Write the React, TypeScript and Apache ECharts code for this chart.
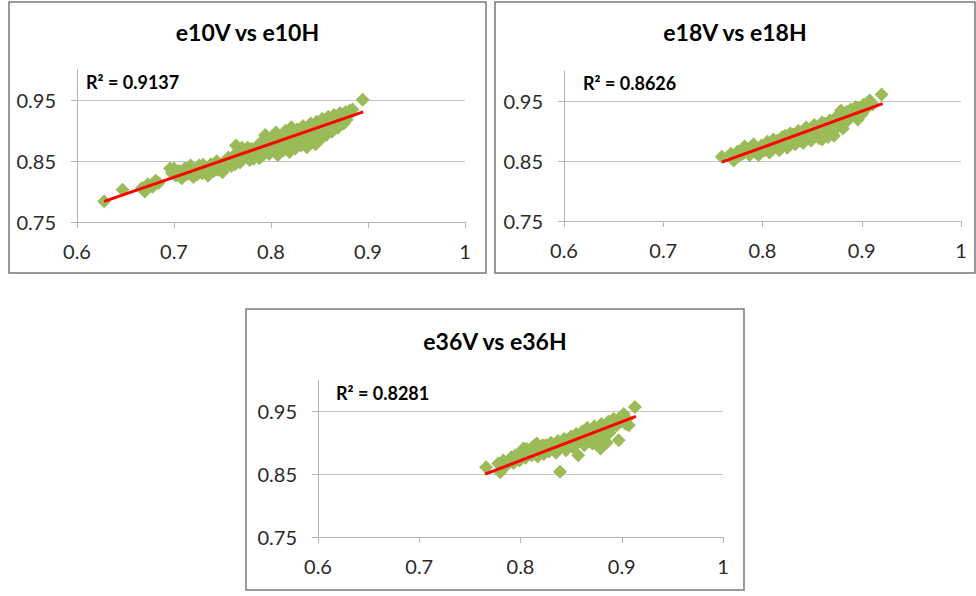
import React, { useEffect, useRef } from "react";
import * as echarts from "echarts";

const TITLES = ["e10V vs e10H", "e18V vs e18H", "e36V vs e36H"];
const R2_LABELS = ["R² = 0.9137", "R² = 0.8626", "R² = 0.8281"];
const X_TICKS = [0.6, 0.7, 0.8, 0.9, 1];
const Y_TICKS = [0.75, 0.85, 0.95];

const E10_POINTS: number[][] = [
  [0.628, 0.784], [0.647, 0.803], [0.667, 0.806], [0.67, 0.8], [0.673, 0.812], [0.678, 0.808],
  [0.681, 0.818], [0.684, 0.814], [0.696, 0.838], [0.698, 0.83], [0.702, 0.826], [0.705, 0.834],
  [0.708, 0.822], [0.711, 0.838], [0.714, 0.829], [0.717, 0.843], [0.72, 0.824], [0.723, 0.836],
  [0.726, 0.843], [0.729, 0.83], [0.732, 0.838], [0.735, 0.826], [0.738, 0.845], [0.741, 0.834],
  [0.744, 0.85], [0.747, 0.84], [0.75, 0.832], [0.753, 0.848], [0.756, 0.856], [0.759, 0.842],
  [0.762, 0.852], [0.764, 0.876], [0.766, 0.862], [0.768, 0.848], [0.77, 0.872], [0.772, 0.858],
  [0.775, 0.866], [0.778, 0.852], [0.78, 0.87], [0.783, 0.86], [0.786, 0.875], [0.788, 0.855],
  [0.791, 0.868], [0.794, 0.893], [0.796, 0.878], [0.798, 0.862], [0.801, 0.886], [0.803, 0.87],
  [0.805, 0.897], [0.807, 0.86], [0.809, 0.88], [0.811, 0.89], [0.813, 0.868], [0.815, 0.9],
  [0.817, 0.876], [0.819, 0.865], [0.821, 0.906], [0.823, 0.884], [0.825, 0.871], [0.827, 0.902],
  [0.829, 0.893], [0.831, 0.876], [0.833, 0.908], [0.835, 0.885], [0.837, 0.873], [0.839, 0.897],
  [0.841, 0.912], [0.843, 0.881], [0.845, 0.891], [0.847, 0.915], [0.849, 0.9], [0.851, 0.886],
  [0.853, 0.92], [0.855, 0.906], [0.857, 0.893], [0.859, 0.923], [0.861, 0.911], [0.863, 0.899],
  [0.865, 0.926], [0.867, 0.915], [0.869, 0.905], [0.871, 0.929], [0.873, 0.92], [0.875, 0.912],
  [0.877, 0.931], [0.879, 0.924], [0.881, 0.933], [0.884, 0.935], [0.8945, 0.951],
  [0.7, 0.838], [0.706, 0.827], [0.712, 0.832], [0.718, 0.835], [0.724, 0.828], [0.73, 0.844],
  [0.733, 0.832], [0.737, 0.836], [0.742, 0.842], [0.745, 0.836], [0.749, 0.845], [0.752, 0.838],
  [0.755, 0.85], [0.758, 0.848], [0.761, 0.858], [0.763, 0.845], [0.767, 0.868], [0.769, 0.856],
  [0.773, 0.864], [0.776, 0.872], [0.779, 0.862], [0.782, 0.854], [0.785, 0.866], [0.789, 0.88],
  [0.792, 0.86], [0.795, 0.872], [0.797, 0.886], [0.8, 0.868], [0.804, 0.878], [0.808, 0.892],
  [0.812, 0.874], [0.816, 0.884], [0.818, 0.896], [0.822, 0.876], [0.826, 0.888], [0.83, 0.882],
  [0.834, 0.896], [0.838, 0.902], [0.842, 0.888], [0.846, 0.898], [0.85, 0.906], [0.854, 0.896],
  [0.858, 0.91], [0.862, 0.904], [0.866, 0.918], [0.87, 0.922], [0.874, 0.926], [0.878, 0.918],
  [0.846, 0.878], [0.852, 0.89],
];

const E18_POINTS: number[][] = [
  [0.759, 0.857], [0.771, 0.851], [0.768, 0.862], [0.775, 0.866], [0.78, 0.862], [0.784, 0.869],
  [0.789, 0.866], [0.793, 0.872], [0.796, 0.86], [0.799, 0.876], [0.802, 0.868], [0.805, 0.882],
  [0.808, 0.872], [0.811, 0.886], [0.814, 0.876], [0.817, 0.868], [0.82, 0.89], [0.822, 0.88],
  [0.825, 0.872], [0.828, 0.896], [0.83, 0.886], [0.833, 0.878], [0.836, 0.9], [0.838, 0.89],
  [0.841, 0.88], [0.844, 0.906], [0.846, 0.894], [0.849, 0.884], [0.852, 0.91], [0.854, 0.9],
  [0.857, 0.888], [0.86, 0.914], [0.862, 0.904], [0.865, 0.894], [0.868, 0.918], [0.87, 0.908],
  [0.872, 0.892], [0.875, 0.924], [0.877, 0.914], [0.879, 0.934], [0.881, 0.904], [0.884, 0.928],
  [0.886, 0.918], [0.889, 0.936], [0.891, 0.926], [0.894, 0.94], [0.896, 0.919], [0.899, 0.934],
  [0.902, 0.944], [0.905, 0.938], [0.908, 0.951], [0.911, 0.944], [0.92, 0.961],
  [0.776, 0.858], [0.782, 0.874], [0.787, 0.86], [0.791, 0.878], [0.798, 0.868], [0.803, 0.878],
  [0.807, 0.864], [0.81, 0.878], [0.815, 0.884], [0.818, 0.876], [0.823, 0.892], [0.827, 0.882],
  [0.831, 0.894], [0.835, 0.884], [0.839, 0.898], [0.843, 0.888], [0.847, 0.902], [0.851, 0.892],
  [0.855, 0.906], [0.859, 0.896], [0.863, 0.912], [0.867, 0.902], [0.871, 0.916], [0.874, 0.904],
  [0.878, 0.922], [0.882, 0.916], [0.885, 0.932], [0.888, 0.924], [0.892, 0.932], [0.897, 0.938],
  [0.9, 0.928], [0.904, 0.942], [0.86, 0.886], [0.866, 0.89],
];

const E36_POINTS: number[][] = [
  [0.766, 0.861], [0.778, 0.867], [0.78, 0.853], [0.786, 0.864], [0.791, 0.877], [0.793, 0.868],
  [0.797, 0.874], [0.8, 0.884], [0.803, 0.891], [0.805, 0.876], [0.808, 0.886], [0.811, 0.88],
  [0.813, 0.895], [0.816, 0.899], [0.817, 0.878], [0.82, 0.89], [0.823, 0.882], [0.825, 0.896],
  [0.828, 0.886], [0.83, 0.9], [0.832, 0.89], [0.835, 0.884], [0.837, 0.903], [0.839, 0.854],
  [0.84, 0.894], [0.843, 0.906], [0.845, 0.888], [0.848, 0.898], [0.85, 0.91], [0.852, 0.893],
  [0.855, 0.914], [0.857, 0.88], [0.858, 0.903], [0.861, 0.918], [0.863, 0.896], [0.866, 0.924],
  [0.868, 0.908], [0.871, 0.899], [0.873, 0.926], [0.875, 0.914], [0.877, 0.906], [0.879, 0.891],
  [0.88, 0.93], [0.882, 0.92], [0.885, 0.9], [0.887, 0.934], [0.889, 0.924], [0.892, 0.938],
  [0.895, 0.928], [0.897, 0.904], [0.899, 0.934], [0.902, 0.946], [0.905, 0.938], [0.907, 0.928],
  [0.913, 0.957],
  [0.783, 0.872], [0.789, 0.87], [0.795, 0.88], [0.799, 0.872], [0.802, 0.882], [0.806, 0.89],
  [0.81, 0.886], [0.814, 0.884], [0.818, 0.894], [0.822, 0.896], [0.827, 0.892], [0.831, 0.896],
  [0.834, 0.894], [0.838, 0.898], [0.842, 0.898], [0.846, 0.904], [0.849, 0.902], [0.853, 0.906],
  [0.856, 0.908], [0.86, 0.91], [0.864, 0.912], [0.867, 0.916], [0.87, 0.918], [0.874, 0.92],
  [0.878, 0.922], [0.881, 0.912], [0.884, 0.928], [0.888, 0.916], [0.891, 0.93], [0.894, 0.934],
  [0.898, 0.94], [0.901, 0.936], [0.904, 0.93], [0.873, 0.9], [0.862, 0.9],
];

const E10_TREND: number[][] = [[0.628, 0.784], [0.895, 0.931]];
const E18_TREND: number[][] = [[0.759, 0.848], [0.921, 0.9455]];
const E36_TREND: number[][] = [[0.765, 0.85], [0.914, 0.942]];

const POINTS = [E10_POINTS, E18_POINTS, E36_POINTS];
const TRENDS = [E10_TREND, E18_TREND, E36_TREND];

const LAYOUT = [
  { box: [9, 2, 477, 271], grid: { left: 77, top: 70, width: 388, height: 152 }, title: [247.5, 32], r2: [86, 82] },
  { box: [495, 2, 480, 271], grid: { left: 564, top: 71, width: 397, height: 150 }, title: [735, 32], r2: [583, 83] },
  { box: [246, 309, 498, 281], grid: { left: 318, top: 380, width: 405, height: 157 }, title: [495, 341], r2: [336, 393] },
];

const FONT = "Lato, 'Open Sans', sans-serif";
const AXIS_COLOR = "#b4b4b4";
const GRID_COLOR = "#c4c4c4";
const LABEL_COLOR = "#2a2a2a";
const SCATTER_COLOR = "#9BBB59";

export default function App() {
  const ref = useRef<HTMLDivElement>(null);
  useEffect(() => {
    if (!ref.current) return;
    const chart = echarts.init(ref.current, undefined, { renderer: "svg" });
    const grids = LAYOUT.map((l) => ({ ...l.grid, containLabel: false }));
    const xAxes = LAYOUT.map((_, i) => ({
      type: "value",
      gridIndex: i,
      min: X_TICKS[0],
      max: X_TICKS[X_TICKS.length - 1],
      interval: 0.1,
      axisLine: { show: true, lineStyle: { color: AXIS_COLOR, width: 1 } },
      axisTick: { show: true, inside: false, length: 6, lineStyle: { color: AXIS_COLOR } },
      axisLabel: { color: LABEL_COLOR, fontSize: 20, fontFamily: FONT, margin: 19 },
      splitLine: { show: false },
    }));
    const yAxes = LAYOUT.map((_, i) => ({
      type: "value",
      gridIndex: i,
      min: 0.75,
      max: 1.0,
      axisLine: { show: true, lineStyle: { color: AXIS_COLOR, width: 1 } },
      axisTick: { show: true, inside: false, length: 6, customValues: Y_TICKS, lineStyle: { color: AXIS_COLOR } },
      axisLabel: { color: LABEL_COLOR, fontSize: 20, fontFamily: FONT, margin: 21, customValues: Y_TICKS },
      splitLine: { show: true, lineStyle: { color: GRID_COLOR, width: 1 } },
    }));
    const series: any[] = [];
    POINTS.forEach((pts, i) => {
      series.push({
        type: "scatter",
        xAxisIndex: i,
        yAxisIndex: i,
        data: pts,
        symbol: "diamond",
        symbolSize: 14,
        itemStyle: { color: SCATTER_COLOR, opacity: 1 },
        z: 2,
        silent: true,
      });
      series.push({
        type: "line",
        xAxisIndex: i,
        yAxisIndex: i,
        data: TRENDS[i],
        symbol: "none",
        lineStyle: { color: "#FF0000", width: 3 },
        z: 3,
        silent: true,
      });
    });
    const graphic: any[] = [];
    LAYOUT.forEach((l, i) => {
      graphic.push({
        type: "rect",
        shape: { x: l.box[0], y: l.box[1], width: l.box[2], height: l.box[3] },
        style: { fill: "none", stroke: "#7a7a7a", lineWidth: 1.5 },
        silent: true,
      });
      graphic.push({
        type: "text",
        x: l.title[0],
        y: l.title[1],
        style: {
          text: TITLES[i],
          fill: "#000",
          font: `bold 23px ${FONT}`,
          textAlign: "center",
          textVerticalAlign: "middle",
        },
        silent: true,
      });
      graphic.push({
        type: "text",
        x: l.r2[0],
        y: l.r2[1],
        style: {
          text: R2_LABELS[i],
          fill: "#000",
          font: `bold 18px ${FONT}`,
          textAlign: "left",
          textVerticalAlign: "middle",
        },
        silent: true,
      });
    });
    chart.setOption({
      animation: false,
      backgroundColor: "#fff",
      grid: grids,
      xAxis: xAxes,
      yAxis: yAxes,
      series,
      graphic,
    });
    return () => chart.dispose();
  }, []);
  return (
    <div
      ref={ref}
      style={{ position: "absolute", left: 0, top: 0, width: 976, height: 596, background: "#fff" }}
    />
  );
}
